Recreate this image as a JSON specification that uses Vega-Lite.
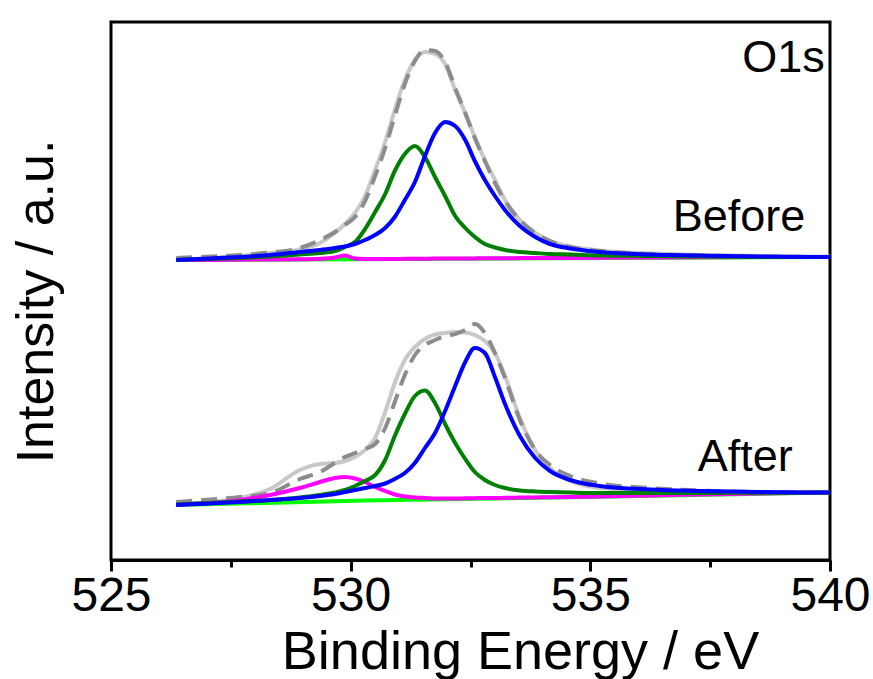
{
  "$schema": "https://vega.github.io/schema/vega-lite/v6.json",
  "width": 719,
  "height": 538,
  "autosize": "none",
  "padding": {"left": 111, "top": 22, "right": 43, "bottom": 119},
  "background": "white",
  "config": {
    "view": {"stroke": "black", "strokeWidth": 3},
    "font": "Liberation Sans",
    "axis": {"grid": false}
  },
  "datasets": {
    "spectra": [
      {"e": 526.36, "Bm": 300, "Bg": 300, "Bb": 300, "Bl": 300, "Bd": 302, "Am": 55.5, "Ag": 55.5, "Ab": 55, "Al": 56, "Ad": 58},
      {"e": 527.07, "Bm": 300, "Bg": 301, "Bb": 301.5, "Bl": 302, "Bd": 303.5, "Am": 57, "Ag": 57, "Ab": 56.5, "Al": 58, "Ad": 60.5},
      {"e": 527.69, "Bm": 300.3, "Bg": 302, "Bb": 303, "Bl": 304, "Bd": 305, "Am": 60, "Ag": 58.5, "Ab": 58, "Al": 62, "Ad": 63},
      {"e": 528.32, "Bm": 300.5, "Bg": 303.5, "Bb": 305, "Bl": 307, "Bd": 307.5, "Am": 65, "Ag": 60, "Ab": 60, "Al": 71, "Ad": 67},
      {"e": 528.94, "Bm": 300.7, "Bg": 305.5, "Bb": 308, "Bl": 310.5, "Bd": 312, "Am": 72, "Ag": 62.5, "Ab": 62, "Al": 90, "Ad": 81},
      {"e": 529.36, "Bm": 301.2, "Bg": 307, "Bb": 310, "Bl": 317, "Bd": 320, "Am": 78, "Ag": 65, "Ab": 64, "Al": 96, "Ad": 88},
      {"e": 529.67, "Bm": 302.5, "Bg": 309, "Bb": 312, "Bl": 327, "Bd": 328, "Am": 82, "Ag": 67.5, "Ab": 66, "Al": 97, "Ad": 97},
      {"e": 529.88, "Bm": 304.5, "Bg": 313, "Bb": 313.5, "Bl": 336, "Bd": 335, "Am": 83, "Ag": 70, "Ab": 68, "Al": 99, "Ad": 103},
      {"e": 530.09, "Bm": 301.5, "Bg": 318, "Bb": 316, "Bl": 347, "Bd": 343, "Am": 81.5, "Ag": 74, "Ab": 70, "Al": 103, "Ad": 107},
      {"e": 530.30, "Bm": 301, "Bg": 331, "Bb": 320, "Bl": 364, "Bd": 359, "Am": 78, "Ag": 79, "Ab": 72, "Al": 110, "Ad": 111},
      {"e": 530.51, "Bm": 301, "Bg": 348, "Bb": 325, "Bl": 390, "Bd": 384, "Am": 73, "Ag": 85, "Ab": 74, "Al": 122, "Ad": 116},
      {"e": 530.72, "Bm": 301, "Bg": 366, "Bb": 332, "Bl": 418, "Bd": 412, "Am": 69, "Ag": 100, "Ab": 76.5, "Al": 148, "Ad": 132},
      {"e": 530.92, "Bm": 301, "Bg": 389, "Bb": 343, "Bl": 450, "Bd": 444, "Am": 65.5, "Ag": 124, "Ab": 81, "Al": 177, "Ad": 158},
      {"e": 531.13, "Bm": 301.2, "Bg": 406, "Bb": 360, "Bl": 480, "Bd": 476, "Am": 63.5, "Ag": 146, "Ab": 87, "Al": 200, "Ad": 185},
      {"e": 531.34, "Bm": 301.2, "Bg": 414, "Bb": 378, "Bl": 500, "Bd": 499, "Am": 62.5, "Ag": 164, "Ab": 97, "Al": 213, "Ad": 205},
      {"e": 531.55, "Bm": 301.3, "Bg": 403, "Bb": 404, "Bl": 508, "Bd": 510, "Am": 62, "Ag": 169.5, "Ab": 112, "Al": 221, "Ad": 215},
      {"e": 531.76, "Bm": 301.4, "Bg": 383, "Bb": 427, "Bl": 506, "Bd": 509, "Am": 61.5, "Ag": 157, "Ab": 127, "Al": 225.5, "Ad": 220},
      {"e": 531.97, "Bm": 301.4, "Bg": 364, "Bb": 438, "Bl": 496, "Bd": 498, "Am": 61.5, "Ag": 136, "Ab": 149, "Al": 227, "Ad": 224},
      {"e": 532.18, "Bm": 301.5, "Bg": 344, "Bb": 434, "Bl": 470, "Bd": 472, "Am": 61.5, "Ag": 117, "Ab": 174, "Al": 228, "Ad": 226},
      {"e": 532.39, "Bm": 301.5, "Bg": 332, "Bb": 420, "Bl": 447, "Bd": 447, "Am": 61.7, "Ag": 101, "Ab": 198, "Al": 227.5, "Ad": 230},
      {"e": 532.59, "Bm": 301.6, "Bg": 323, "Bb": 399, "Bl": 423, "Bd": 422, "Am": 61.8, "Ag": 88, "Ab": 212, "Al": 225, "Ad": 236},
      {"e": 532.80, "Bm": 301.7, "Bg": 316, "Bb": 380, "Bl": 400, "Bd": 399, "Am": 62, "Ag": 80, "Ab": 207, "Al": 219, "Ad": 227},
      {"e": 533.01, "Bm": 301.7, "Bg": 312.5, "Bb": 364, "Bl": 380, "Bd": 377, "Am": 62, "Ag": 75, "Ab": 183, "Al": 207, "Ad": 207},
      {"e": 533.22, "Bm": 301.8, "Bg": 310, "Bb": 350, "Bl": 360, "Bd": 359, "Am": 62.2, "Ag": 72, "Ab": 156, "Al": 184, "Ad": 182},
      {"e": 533.53, "Bm": 301.9, "Bg": 308, "Bb": 334, "Bl": 340, "Bd": 340, "Am": 62.4, "Ag": 69.5, "Ab": 124, "Al": 142, "Ad": 140},
      {"e": 533.85, "Bm": 302, "Bg": 307, "Bb": 323, "Bl": 327, "Bd": 327, "Am": 62.6, "Ag": 68.5, "Ab": 102, "Al": 110, "Ad": 110},
      {"e": 534.16, "Bm": 302, "Bg": 306, "Bb": 316, "Bl": 319, "Bd": 319, "Am": 62.8, "Ag": 68, "Ab": 89, "Al": 92, "Ad": 95},
      {"e": 534.58, "Bm": 302.1, "Bg": 305.5, "Bb": 311.5, "Bl": 313.5, "Bd": 313, "Am": 63, "Ag": 67.5, "Ab": 80, "Al": 79, "Ad": 84},
      {"e": 535.20, "Bm": 302.3, "Bg": 304.5, "Bb": 308, "Bl": 309.5, "Bd": 309, "Am": 63.5, "Ag": 67, "Ab": 74, "Al": 72, "Ad": 76.5},
      {"e": 536.24, "Bm": 302.5, "Bg": 304, "Bb": 305.5, "Bl": 306.5, "Bd": 306, "Am": 64.5, "Ag": 67, "Ab": 70.5, "Al": 69, "Ad": 72},
      {"e": 537.29, "Bm": 302.7, "Bg": 303.5, "Bb": 304.5, "Bl": 305, "Bd": 304.5, "Am": 65.5, "Ag": 67, "Ab": 69, "Al": 68, "Ad": 69.5},
      {"e": 538.54, "Bm": 302.9, "Bg": 303, "Bb": 303.5, "Bl": 304, "Bd": 303.5, "Am": 66.5, "Ag": 67.2, "Ab": 68, "Al": 67.5, "Ad": 68},
      {"e": 540.00, "Bm": 303, "Bg": 303, "Bb": 303, "Bl": 303.5, "Bd": 303, "Am": 67.5, "Ag": 67.5, "Ab": 67.5, "Al": 67, "Ad": 67.5}
    ],
    "baseline": [
      {"set": "Before", "e": 526.36, "v": 300},
      {"set": "Before", "e": 540.0, "v": 303},
      {"set": "After", "e": 526.36, "v": 55},
      {"set": "After", "e": 530.3, "v": 59.5},
      {"set": "After", "e": 534.89, "v": 63},
      {"set": "After", "e": 540.0, "v": 67.5}
    ],
    "labels": [
      {"text": "O1s", "e": 539.03, "v": 488},
      {"text": "Before", "e": 538.10, "v": 329},
      {"text": "After", "e": 538.23, "v": 89}
    ]
  },
  "layer": [
    {
      "data": {"name": "spectra"},
      "transform": [{"fold": ["Bl", "Al"], "as": ["series", "intensity"]}],
      "mark": {"type": "line", "interpolate": "monotone", "stroke": "#c8c8c8", "strokeWidth": 4},
      "encoding": {
        "x": {"field": "e", "type": "quantitative", "scale": {"domain": [525, 540], "nice": false},
          "axis": {"values": [525, 530, 535, 540], "orient": "bottom", "title": "Binding Energy / eV",
            "domainWidth": 3, "domainColor": "black", "tickWidth": 3, "tickSize": 11, "tickColor": "black",
            "labelFontSize": 48, "labelColor": "black", "labelPadding": 1, "labelFlush": false,
            "titleFontSize": 54, "titleFontWeight": "normal", "titleColor": "black", "titlePadding": 5,
            "titleX": 409, "titleAlign": "center"}},
        "y": {"field": "intensity", "type": "quantitative", "scale": {"domain": [0, 538], "nice": false},
          "axis": {"title": "Intensity / a.u.", "labels": false, "ticks": false, "domain": false,
            "titleFontSize": 52, "titleFontWeight": "normal", "titleColor": "black", "titlePadding": 48,
            "titleY": 279, "titleAlign": "center"}},
        "detail": {"field": "series"}
      }
    },
    {
      "data": {"name": "spectra"},
      "transform": [{"fold": ["Bd", "Ad"], "as": ["series", "intensity"]}],
      "mark": {"type": "line", "interpolate": "monotone", "stroke": "#8c8c8c", "strokeWidth": 4, "strokeDash": [16, 9]},
      "encoding": {
        "x": {"field": "e", "type": "quantitative", "scale": {"domain": [525, 540], "nice": false}, "axis": null},
        "y": {"field": "intensity", "type": "quantitative", "scale": {"domain": [0, 538], "nice": false}},
        "detail": {"field": "series"}
      }
    },
    {
      "data": {"name": "baseline"},
      "mark": {"type": "line", "stroke": "#00ff00", "strokeWidth": 4},
      "encoding": {
        "x": {"field": "e", "type": "quantitative", "scale": {"domain": [525, 540], "nice": false}, "axis": null},
        "y": {"field": "v", "type": "quantitative", "scale": {"domain": [0, 538], "nice": false}},
        "detail": {"field": "set"}
      }
    },
    {
      "data": {"name": "spectra"},
      "transform": [{"fold": ["Bm", "Am", "Bg", "Ag", "Bb", "Ab"], "as": ["series", "intensity"]}],
      "mark": {"type": "line", "interpolate": "monotone", "strokeWidth": 4},
      "encoding": {
        "x": {"field": "e", "type": "quantitative", "scale": {"domain": [525, 540], "nice": false}, "axis": null},
        "y": {"field": "intensity", "type": "quantitative", "scale": {"domain": [0, 538], "nice": false}},
        "color": {"field": "series", "type": "nominal", "legend": null,
          "scale": {"domain": ["Bm", "Am", "Bg", "Ag", "Bb", "Ab"],
            "range": ["#ff00ff", "#ff00ff", "#008000", "#008000", "#0000ff", "#0000ff"]}}
      }
    },
    {
      "data": {"name": "labels"},
      "mark": {"type": "text", "fontSize": 45, "align": "center", "baseline": "alphabetic", "color": "black", "font": "Liberation Sans"},
      "encoding": {
        "x": {"field": "e", "type": "quantitative", "scale": {"domain": [525, 540], "nice": false},
          "axis": {"values": [527.5, 532.5, 537.5], "orient": "bottom", "labels": false, "domain": false,
            "tickWidth": 3, "tickSize": 7, "tickColor": "black", "title": null}},
        "y": {"field": "v", "type": "quantitative", "scale": {"domain": [0, 538], "nice": false}},
        "text": {"field": "text"}
      }
    }
  ],
  "resolve": {"axis": {"x": "independent"}}
}
